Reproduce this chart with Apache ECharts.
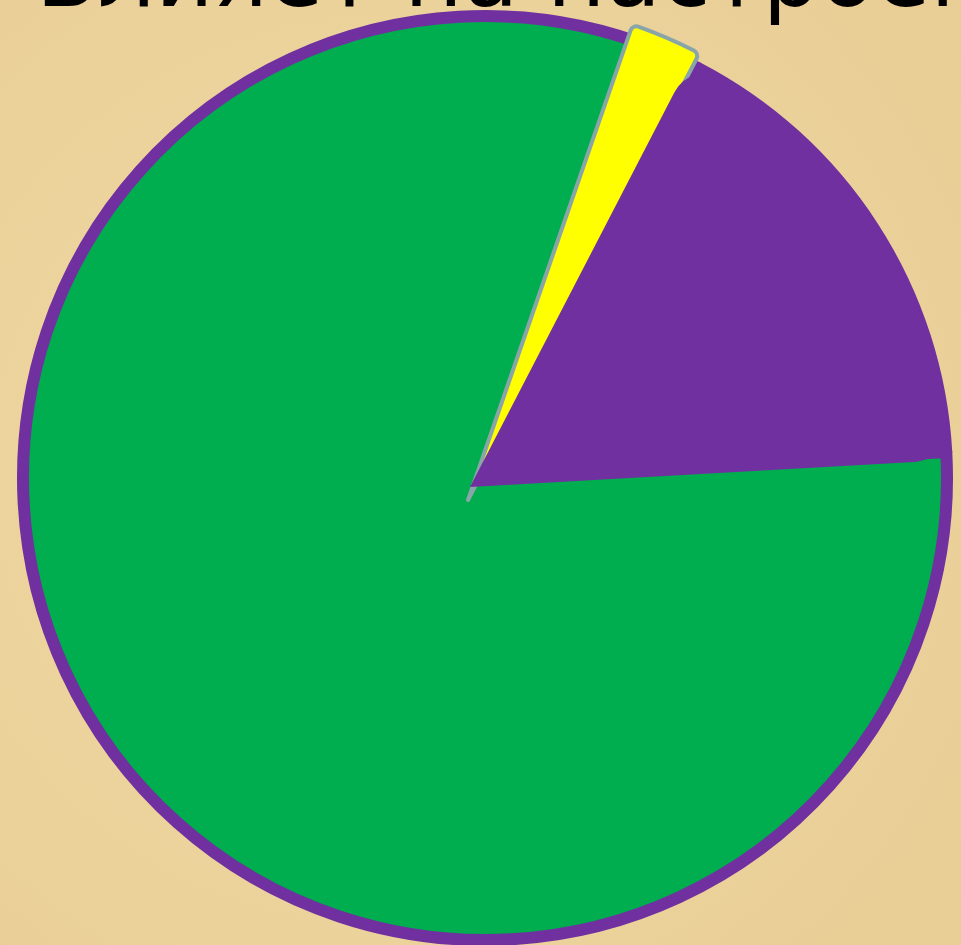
<!DOCTYPE html>
<html>
<head>
<meta charset="utf-8">
<script src="https://cdn.jsdelivr.net/npm/echarts@6/dist/echarts.min.js"></script>
<style>
html,body{margin:0;padding:0;background:#eed6a0;}
#chart{width:961px;height:945px;}
</style>
</head>
<body>
<div id="chart"></div>
<script>
// Data
const titleText = 'Влияет на настроение';
const categories = ['Жёлтый', 'Фиолетовый', 'Зелёный'];
const values = [2.3, 16.5, 81.2];
const sliceColors = ['#ffff00', '#7030a0', '#00ad4f'];

const chart = echarts.init(document.getElementById('chart'), null, {renderer: 'canvas'});

function makeData(colorFn, styleFn) {
  return categories.map((name, i) => ({
    name: name,
    value: values[i],
    itemStyle: Object.assign({color: colorFn(i)}, styleFn ? styleFn(i) : {})
  }));
}

const common = {
  type: 'pie',
  startAngle: 70.9,
  clockwise: true,
  silent: true,
  label: {show: false},
  labelLine: {show: false},
  emphasis: {disabled: true},
  animation: false
};

const option = {
  backgroundColor: {
    type: 'radial', x: 0.4, y: 0.5, r: 0.8,
    colorStops: [
      {offset: 0, color: '#f1daa6'},
      {offset: 1, color: '#e8cd94'}
    ]
  },
  animation: false,
  title: {
    text: titleText,
    left: 31,
    top: -67,
    textStyle: {
      fontFamily: 'DejaVu Sans',
      fontSize: 90,
      fontWeight: 'normal',
      color: '#000000'
    }
  },
  series: [
    // base disc (green body with purple rim)
    Object.assign({}, common, {
      center: [485, 478],
      radius: 462,
      z: 1,
      data: makeData(() => '#00ad4f', () => ({borderColor: '#7030a0', borderWidth: 12}))
    }),
    // yellow slice
    Object.assign({}, common, {
      center: [468, 500],
      radius: 503,
      z: 2,
      data: makeData(i => i === 0 ? sliceColors[0] : 'rgba(0,0,0,0)',
        i => i === 0 ? {borderColor: '#8aa5a8', borderWidth: 4, borderRadius: [0, 6]} : {borderWidth: 0})
    }),
    // purple slice
    Object.assign({}, common, {
      center: [470, 487],
      radius: 482,
      z: 3,
      data: makeData(i => i === 1 ? sliceColors[1] : 'rgba(0,0,0,0)',
        i => i === 1 ? {borderWidth: 0, borderRadius: [0, 36]} : {borderWidth: 0})
    })
  ]
};
chart.setOption(option);
</script>
</body>
</html>
